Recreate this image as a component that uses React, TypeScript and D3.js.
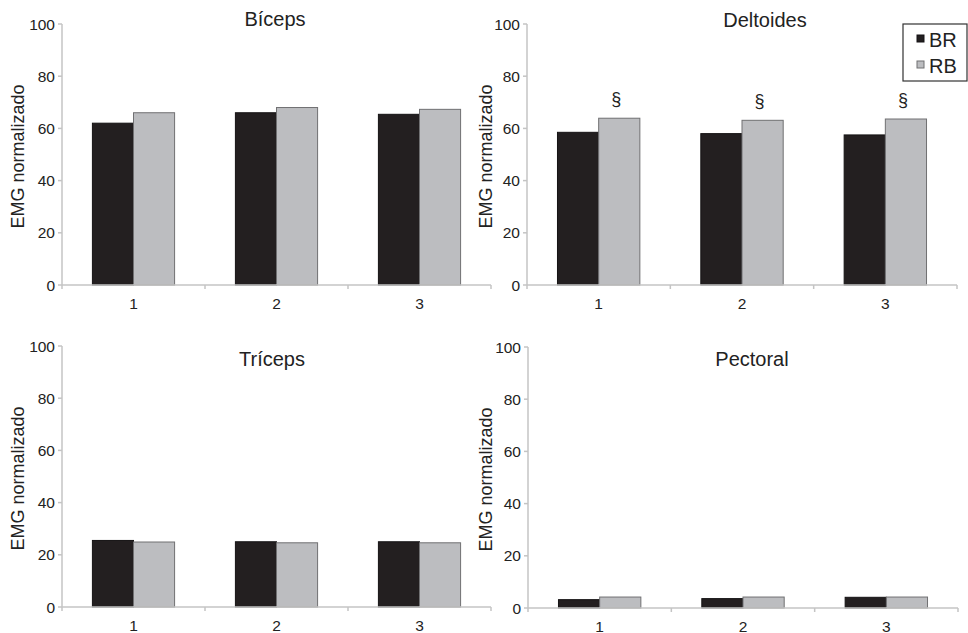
import React from "react";
import * as d3 from "d3";

const categories = ["1", "2", "3"];
const seriesNames = ["BR", "RB"];
const yTicks = [0, 20, 40, 60, 80, 100];

const bicepsBR = [62, 66, 65.4];
const bicepsRB = [66, 68, 67.3];
const deltoidesBR = [58.5, 58, 57.5];
const deltoidesRB = [63.9, 63.1, 63.6];
const tricepsBR = [25.5, 25, 25];
const tricepsRB = [24.9, 24.6, 24.6];
const pectoralBR = [3.2, 3.6, 4.1];
const pectoralRB = [4.2, 4.2, 4.2];

const panelTitles = ["Bíceps", "Deltoides", "Tríceps", "Pectoral"];
const significanceMarks = [[], ["§", "§", "§"], [], []];
const yLabel = "EMG normalizado";

const FONT = "'Liberation Sans', Arial, Helvetica, sans-serif";
const COLORS: Record<string, string> = { BR: "#231f20", RB: "#bcbdc0" };
const STROKES: Record<string, string> = { BR: "#151314", RB: "#707072" };
const AXIS = "#c4c4c4";

type PanelProps = {
  title: string;
  br: number[];
  rb: number[];
  marks: string[];
  x0: number;
  x1: number;
  yTop: number;
  yBottom: number;
  titleX: number;
  titleY: number;
  labelX: number;
};

function Panel(p: PanelProps) {
  const x = d3.scaleBand<string>().domain(categories).range([p.x0, p.x1]).padding(0);
  const xs = d3
    .scaleBand<string>()
    .domain(seriesNames)
    .range([0, x.bandwidth()])
    .paddingInner(0)
    .paddingOuter(0.74);
  const y = d3.scaleLinear().domain([0, 100]).range([p.yBottom, p.yTop]);
  const vals: Record<string, number[]> = { BR: p.br, RB: p.rb };
  const boundaries = [...categories.map((c) => x(c)!), p.x1];
  return (
    <g>
      <text
        x={p.titleX}
        y={p.titleY}
        textAnchor="middle"
        dominantBaseline="central"
        fontSize={20}
        fill="#222"
      >
        {p.title}
      </text>
      <text
        transform={`translate(${p.labelX},${(p.yTop + p.yBottom) / 2 + 2}) rotate(-90)`}
        textAnchor="middle"
        dominantBaseline="central"
        fontSize={18}
        fill="#222"
      >
        {yLabel}
      </text>
      <line x1={p.x0} x2={p.x0} y1={p.yTop} y2={p.yBottom} stroke={AXIS} strokeWidth={1.5} />
      {yTicks.map((t) => (
        <g key={t}>
          <line x1={p.x0 - 4} x2={p.x0} y1={y(t)} y2={y(t)} stroke={AXIS} strokeWidth={1.5} />
          <text
            x={p.x0 - 7}
            y={y(t)}
            textAnchor="end"
            dominantBaseline="central"
            fontSize={15.5}
            fill="#222"
          >
            {t}
          </text>
        </g>
      ))}
      {categories.map((c, i) => (
        <g key={c}>
          {seriesNames.map((s) => (
            <rect
              key={s}
              x={x(c)! + xs(s)!}
              y={y(vals[s][i])}
              width={xs.bandwidth()}
              height={y(0) - y(vals[s][i])}
              fill={COLORS[s]}
              stroke={STROKES[s]}
              strokeWidth={1}
            />
          ))}
          {p.marks[i] ? (
            <text
              x={x(c)! + xs("RB")! + xs.bandwidth() / 2 - 3}
              y={y(p.rb[i]) - 19}
              textAnchor="middle"
              dominantBaseline="central"
              fontSize={18}
              fill="#222"
            >
              {p.marks[i]}
            </text>
          ) : null}
        </g>
      ))}
      <line x1={p.x0} x2={p.x1} y1={p.yBottom} y2={p.yBottom} stroke={AXIS} strokeWidth={1.5} />
      {boundaries.map((b, i) => (
        <line key={i} x1={b} x2={b} y1={p.yBottom} y2={p.yBottom + 4} stroke={AXIS} strokeWidth={1.5} />
      ))}
      {categories.map((c) => (
        <text
          key={c}
          x={x(c)! + x.bandwidth() / 2}
          y={p.yBottom + 18}
          textAnchor="middle"
          dominantBaseline="central"
          fontSize={15.5}
          fill="#222"
        >
          {c}
        </text>
      ))}
    </g>
  );
}

export default function App() {
  return (
    <svg
      width={968}
      height={633}
      style={{ position: "absolute", left: 0, top: 0, background: "#fff" }}
      fontFamily={FONT}
    >
      <rect x={0} y={0} width={968} height={633} fill="#fff" />
      <Panel title={panelTitles[0]} br={bicepsBR} rb={bicepsRB} marks={significanceMarks[0]}
        x0={62} x1={491} yTop={24} yBottom={285} titleX={275} titleY={19} labelX={18} />
      <Panel title={panelTitles[1]} br={deltoidesBR} rb={deltoidesRB} marks={significanceMarks[1]}
        x0={527} x1={957} yTop={24} yBottom={285} titleX={765} titleY={20} labelX={486} />
      <Panel title={panelTitles[2]} br={tricepsBR} rb={tricepsRB} marks={significanceMarks[2]}
        x0={62} x1={491} yTop={346} yBottom={607} titleX={272} titleY={359} labelX={18} />
      <Panel title={panelTitles[3]} br={pectoralBR} rb={pectoralRB} marks={significanceMarks[3]}
        x0={528} x1={958} yTop={347} yBottom={608} titleX={752} titleY={359} labelX={486} />
      <g>
        <rect x={903} y={24} width={64} height={57} fill="#fff" stroke="#333" strokeWidth={1.2} />
        {seriesNames.map((s, i) => (
          <g key={s}>
            <rect x={917} y={35 + i * 26} width={7} height={7} fill={COLORS[s]} stroke={STROKES[s]} strokeWidth={1} />
            <text x={929} y={39.5 + i * 26} dominantBaseline="central" fontSize={20} fill="#222">
              {s}
            </text>
          </g>
        ))}
      </g>
    </svg>
  );
}
